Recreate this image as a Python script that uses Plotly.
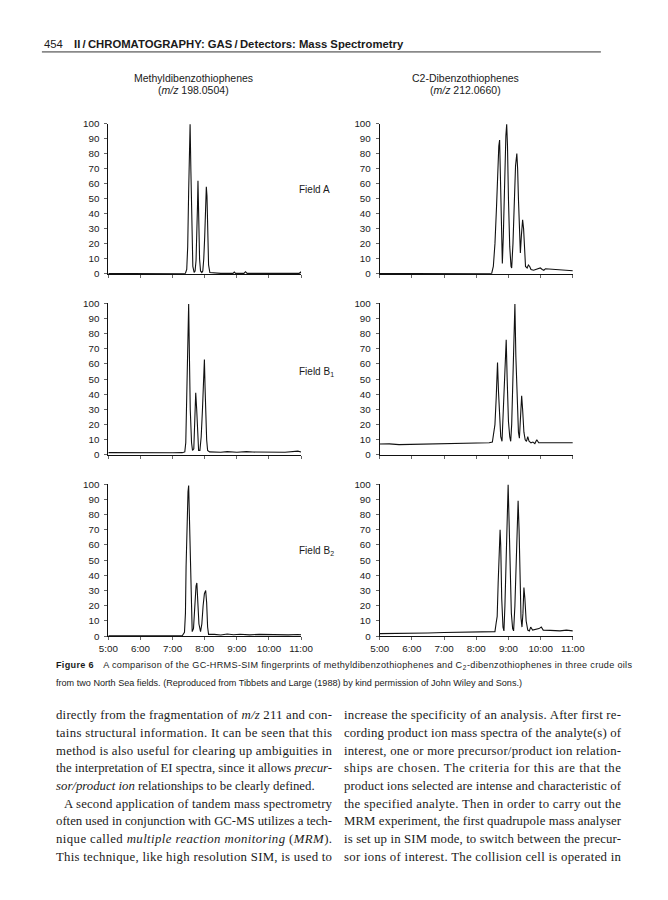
import json
import plotly.graph_objects as go

W, H = 668, 900

# ---------------- data (retention time in minutes, relative intensity %) ----------------
hour_ticks = [5, 6, 7, 8, 9, 10, 11]
hour_labels = ["5:00", "6:00", "7:00", "8:00", "9:00", "10:00", "11:00"]
y_ticks = [0, 10, 20, 30, 40, 50, 60, 70, 80, 90, 100]

# Methyldibenzothiophenes (m/z 198.0504), Field A
t_mdbt_A = [5.00, 7.00, 7.40, 7.44, 7.47, 7.50, 7.52, 7.545, 7.57, 7.60, 7.63, 7.67, 7.70, 7.73,
            7.76, 7.775, 7.79, 7.81, 7.84, 7.87, 7.91, 7.94, 7.97, 8.00, 8.03, 8.05, 8.07, 8.09,
            8.12, 8.16, 8.50, 8.88, 8.92, 8.96, 9.22, 9.27, 9.32, 10.00, 10.94, 10.98, 11.00]
i_mdbt_A = [0.3, 0.3, 0.5, 3, 18, 55, 87, 99.5, 68, 22, 5, 1, 2, 9,
            28, 45, 62, 38, 10, 2, 1, 2, 10, 25, 43, 58, 52, 24,
            6, 1, 0.4, 0.4, 1.3, 0.4, 0.4, 1.5, 0.4, 0.4, 0.4, 1.2, 0.6]

# C2-Dibenzothiophenes (m/z 212.0660), Field A
t_c2_A = [5.00, 8.40, 8.48, 8.53, 8.58, 8.63, 8.67, 8.70, 8.725, 8.75, 8.78, 8.81, 8.84, 8.88,
          8.92, 8.945, 8.97, 9.00, 9.04, 9.08, 9.10, 9.14, 9.18, 9.22, 9.26, 9.285, 9.31, 9.34,
          9.37, 9.40, 9.44, 9.47, 9.50, 9.53, 9.58, 9.62, 9.66, 9.70, 9.78, 9.86, 9.94, 9.99,
          10.05, 10.10, 10.15, 10.30, 10.50, 10.75, 11.00]
i_c2_A = [0.3, 0.3, 0.5, 5, 20, 45, 70, 85, 89, 60, 20, 7, 25, 65,
          92, 99.5, 85, 50, 18, 5, 4, 20, 48, 72, 80, 70, 50, 30,
          14, 25, 36, 30, 12, 5, 4, 6, 5, 3, 2.5, 3, 3.5, 4,
          3, 2.5, 3.5, 3.2, 3, 2.5, 2.2]

# Methyldibenzothiophenes, Field B1
t_mdbt_B1 = [5.00, 5.50, 6.00, 6.50, 7.00, 7.30, 7.38, 7.41, 7.44, 7.47, 7.50, 7.52, 7.55, 7.59,
             7.62, 7.66, 7.69, 7.72, 7.75, 7.78, 7.81, 7.85, 7.89, 7.93, 7.96, 7.99, 8.01, 8.03,
             8.06, 8.09, 8.15, 8.50, 8.70, 9.00, 9.30, 9.50, 10.00, 10.50, 10.90, 11.00]
i_mdbt_B1 = [1.5, 1.4, 1.2, 1.3, 1.4, 1.5, 2, 8, 40, 80, 99.5, 70, 30, 8,
             3, 4, 20, 41, 30, 10, 3, 3, 12, 30, 50, 63, 45, 25,
             10, 3, 2, 1.8, 2.2, 1.8, 2.2, 1.9, 1.8, 1.8, 2.5, 2]

# C2-Dibenzothiophenes, Field B1
t_c2_B1 = [5.00, 5.30, 5.60, 6.00, 6.50, 7.00, 7.50, 8.00, 8.40, 8.50, 8.54, 8.58, 8.62, 8.66,
           8.69, 8.72, 8.76, 8.80, 8.83, 8.87, 8.90, 8.93, 8.96, 9.00, 9.04, 9.07, 9.10, 9.14,
           9.17, 9.20, 9.23, 9.27, 9.31, 9.34, 9.37, 9.41, 9.44, 9.48, 9.52, 9.56, 9.60, 9.64,
           9.70, 9.76, 9.82, 9.88, 9.94, 10.00, 10.20, 10.40, 10.60, 10.80, 11.00]
i_c2_B1 = [7.2, 7.3, 6.8, 7.0, 7.4, 7.5, 7.5, 7.8, 8.0, 8.5, 16, 20, 38, 61,
           42, 25, 12, 9, 25, 50, 68, 76, 50, 22, 12, 9, 20, 55,
           82, 99.5, 65, 35, 15, 11, 25, 39, 30, 15, 10, 9, 12, 9,
           8, 8.5, 7.5, 10, 8, 8, 8, 8.2, 7.8, 8.2, 8]

# Methyldibenzothiophenes, Field B2
t_mdbt_B2 = [5.00, 7.30, 7.37, 7.40, 7.42, 7.45, 7.48, 7.50, 7.52, 7.55, 7.58, 7.61, 7.65, 7.69,
             7.73, 7.755, 7.78, 7.82, 7.87, 7.91, 7.95, 7.99, 8.03, 8.06, 8.09, 8.12, 8.30, 8.50,
             8.70, 8.90, 9.10, 9.40, 9.70, 10.00, 10.30, 10.60, 10.90, 11.00]
i_mdbt_B2 = [0.3, 0.3, 2.5, 15, 46, 80, 95, 99, 80, 40, 10, 3, 5, 22,
             33, 35, 25, 8, 3, 8, 20, 28, 30, 22, 6, 1.2, 1.2, 0.8,
             1.4, 1.0, 1.3, 0.9, 1.2, 1.0, 1.2, 0.9, 1.1, 1.0]

# C2-Dibenzothiophenes, Field B2
t_c2_B2 = [5.00, 5.50, 6.00, 6.50, 7.00, 7.50, 8.00, 8.50, 8.58, 8.62, 8.65, 8.68, 8.71, 8.74,
           8.76, 8.79, 8.83, 8.86, 8.89, 8.93, 8.96, 8.99, 9.02, 9.05, 9.09, 9.13, 9.16, 9.20,
           9.24, 9.28, 9.30, 9.33, 9.36, 9.39, 9.42, 9.45, 9.48, 9.51, 9.55, 9.60, 9.65, 9.69,
           9.75, 9.85, 9.95, 10.02, 10.08, 10.30, 10.60, 10.80, 11.00]
i_c2_B2 = [1.7, 1.7, 2.0, 2.1, 2.4, 2.5, 2.5, 2.6, 3, 9, 13, 35, 55, 70,
           60, 25, 6, 3.5, 20, 60, 90, 99.5, 75, 45, 15, 5, 3.5, 20,
           55, 80, 89, 70, 35, 12, 6, 15, 32, 25, 10, 4, 3.5, 6,
           4, 4.5, 5, 6, 4, 3.8, 3.5, 4, 3.5]

panels = [
    (t_mdbt_A, i_mdbt_A), (t_c2_A, i_c2_A),
    (t_mdbt_B1, i_mdbt_B1), (t_c2_B1, i_c2_B1),
    (t_mdbt_B2, i_mdbt_B2), (t_c2_B2, i_c2_B2),
]

# ---------------- layout geometry (pixels) ----------------
def fx(p):
    return p / W

def fy(p):
    return 1 - p / H

col_px = [(101.7, 301.0), (382.3, 582.0)]
row_px = [(119.0, 271.3), (301.0, 454.5), (484.0, 638.0)]   # (y of 100, y of 0)

SANS = "Liberation Sans, Arial, Helvetica, sans-serif"
SERIF = "Liberation Serif, Times New Roman, serif"
INK = "#1a1a1a"

fig = go.Figure()
layout = dict(
    width=W, height=H,
    margin=dict(l=0, r=0, t=0, b=0),
    paper_bgcolor="white", plot_bgcolor="white",
    showlegend=False,
    font=dict(family=SANS, size=9.5, color=INK),
)

k = 0
for r in range(3):
    for c in range(2):
        k += 1
        t, v = panels[k - 1]
        xa = "x" if k == 1 else f"x{k}"
        ya = "y" if k == 1 else f"y{k}"
        fig.add_trace(go.Scatter(x=t, y=v, mode="lines", xaxis=xa, yaxis=ya,
                                 line=dict(color="#111", width=1.1), hoverinfo="skip"))
        x0, x1 = col_px[c]
        ytop, ybot = row_px[r]
        layout["xaxis" if k == 1 else f"xaxis{k}"] = dict(
            domain=[fx(x0), fx(x1)], range=[5, 11], anchor=ya,
            showline=True, linecolor="#111", linewidth=1,
            ticks="outside", ticklen=3, tickcolor="#666", tickwidth=1,
            tickvals=hour_ticks, ticktext=hour_labels,
            showticklabels=(r == 2), tickfont=dict(size=9.8, color=INK),
            showgrid=False, zeroline=False, fixedrange=True,
        )
        layout["yaxis" if k == 1 else f"yaxis{k}"] = dict(
            domain=[fy(ybot), fy(ytop)], range=[0, 100], anchor=xa,
            showline=True, linecolor="#111", linewidth=1,
            ticks="outside", ticklen=3, tickcolor="#666", tickwidth=1,
            tickvals=y_ticks, tickfont=dict(size=9.8, color=INK),
            ticklabelstandoff=3,
            showgrid=False, zeroline=False, fixedrange=True,
        )

fig.update_layout(**layout)

ann = []
justify = {}   # annotation index -> full line width in px (justified text)

def text(x, y, s, size=9.5, family=SANS, xanchor="left", color=INK, jwidth=None):
    if jwidth:
        justify[str(len(ann))] = jwidth
    ann.append(dict(x=fx(x), y=fy(y), xref="paper", yref="paper", text=s, showarrow=False,
                    xanchor=xanchor, yanchor="middle", align="left" if xanchor == "left" else "center",
                    font=dict(size=size, family=family, color=color)))

# page header
text(33, 38, "454", size=11.3)
text(64, 38, "<b>II\u2009/\u2009CHROMATOGRAPHY: GAS\u2009/\u2009Detectors: Mass Spectrometry</b>", size=11.3)

# panel column titles
text(190, 73, "Methyldibenzothiophenes", size=10.5, xanchor="center")
text(190, 85, "(<i>m/z</i> 198.0504)", size=10.5, xanchor="center")
text(471, 73, "C2-Dibenzothiophenes", size=10.5, xanchor="center")
text(471, 85, "(<i>m/z</i> 212.0660)", size=10.5, xanchor="center")

# field labels
text(297, 186, "Field A", size=10)
text(297, 371, "Field B<sub>1</sub>", size=10)
text(297, 552, "Field B<sub>2</sub>", size=10)

# caption
text(46, 668, "<b>Figure 6</b>\u2003A comparison of the GC-HRMS-SIM fingerprints of methyldibenzothiophenes and C<sub>2</sub>-dibenzothiophenes in three crude oils", size=9.1, jwidth=576)
text(46, 685, "from two North Sea fields. (Reproduced from Tibbets and Large (1988) by kind permission of John Wiley and Sons.)", size=9.1)

# body text: (text, indent px, justified?)
left_lines = [
    ("directly from the fragmentation of <i>m/z</i> 211 and con-", 0, True),
    ("tains structural information. It can be seen that this", 0, True),
    ("method is also useful for clearing up ambiguities in", 0, True),
    ("the interpretation of EI spectra, since it allows <i>precur-</i>", 0, True),
    ("<i>sor/product ion</i> relationships to be clearly defined.", 0, False),
    ("A second application of tandem mass spectrometry", 8, True),
    ("often used in conjunction with GC-MS utilizes a tech-", 0, True),
    ("nique called <i>multiple reaction monitoring</i> (<i>MRM</i>).", 0, True),
    ("This technique, like high resolution SIM, is used to", 0, True),
]
right_lines = [
    ("increase the specificity of an analysis. After first re-", 0, True),
    ("cording product ion mass spectra of the analyte(s) of", 0, True),
    ("interest, one or more precursor/product ion relation-", 0, True),
    ("ships are chosen. The criteria for this are that the", 0, True),
    ("product ions selected are intense and characteristic of", 0, True),
    ("the specified analyte. Then in order to carry out the", 0, True),
    ("MRM experiment, the first quadrupole mass analyser", 0, True),
    ("is set up in SIM mode, to switch between the precur-", 0, True),
    ("sor ions of interest. The collision cell is operated in", 0, True),
]
for x_left, col_w, lines in ((46, 276, left_lines), (343, 277, right_lines)):
    for n, (s, ind, jus) in enumerate(lines):
        text(x_left + ind, 718 + n * 17.9, s, size=12.8, family=SERIF,
             jwidth=(col_w - ind) if jus else None)

fig.update_layout(
    annotations=ann,
    shapes=[dict(type="line", xref="paper", yref="paper", x0=fx(33), x1=fx(611), y0=fy(46.5), y1=fy(46.5),
                 line=dict(color="#333", width=1))],
)

post = """
document.body.style.margin='0';
document.body.style.overflow='hidden';
try {
  var J = %s;
  var gd = document.getElementById('{plot_id}');
  gd.querySelectorAll('g.annotation').forEach(function(g){
    var idx = g.getAttribute('data-index');
    if (J[idx]) {
      var t = g.querySelector('text.annotation-text');
      if (t) { t.setAttribute('textLength', J[idx]); t.setAttribute('lengthAdjust', 'spacing'); }
    }
  });
} catch (e) {}
""" % json.dumps(justify)

fig.write_html("out.html", config={"displayModeBar": False}, post_script=post)
